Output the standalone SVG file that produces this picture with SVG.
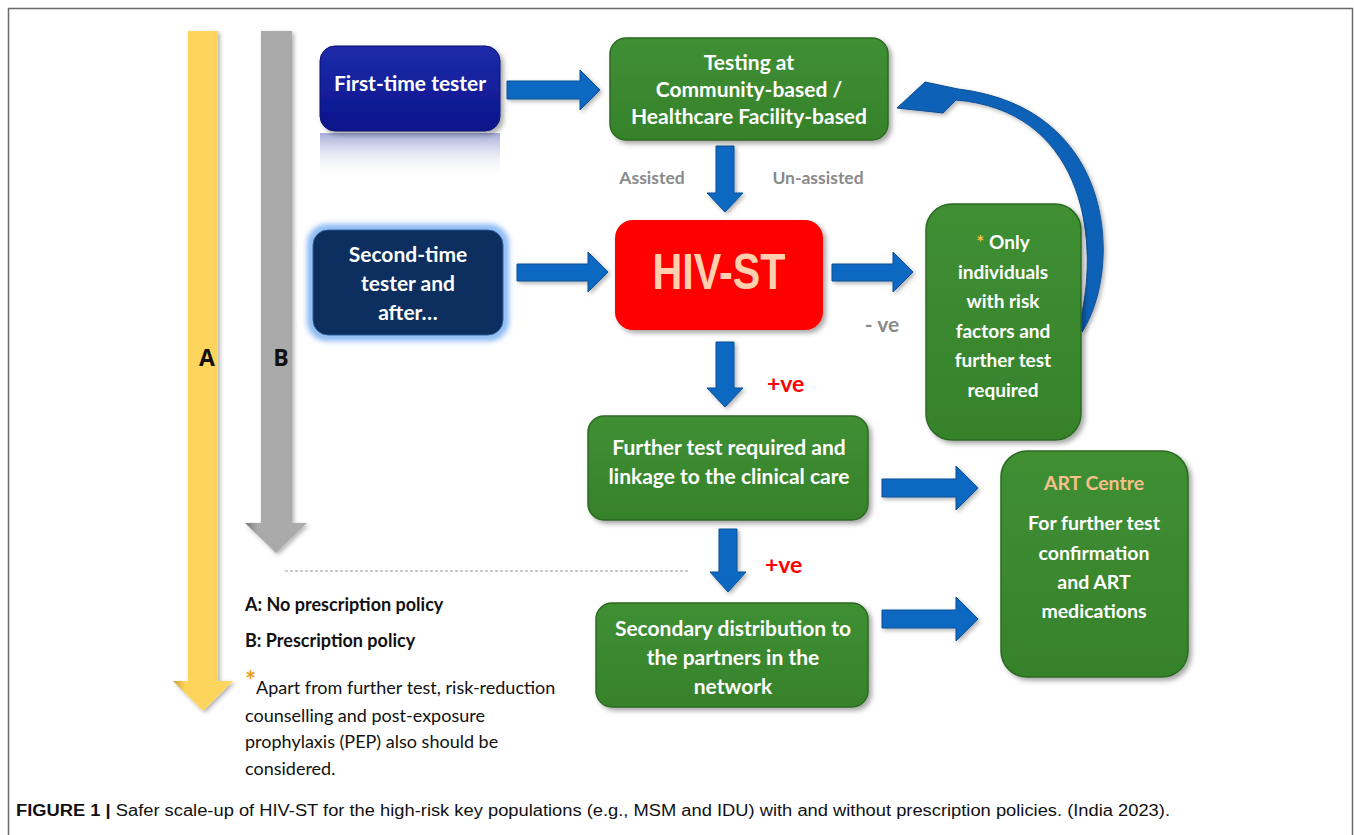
<svg xmlns="http://www.w3.org/2000/svg" width="1354" height="835" viewBox="0 0 1354 835">
<defs>
<style>
.t{font-family:Lato,"Open Sans","Liberation Sans",sans-serif;font-weight:bold;fill:#fff;text-anchor:middle;font-size:21px;}
.t2{font-size:19px;}
.t3{font-size:19.5px;}
.g{font-family:Lato,"Open Sans","Liberation Sans",sans-serif;font-weight:bold;fill:#8a8a8a;text-anchor:middle;font-size:17.5px;}
.r{font-family:Lato,"Open Sans","Liberation Sans",sans-serif;font-weight:bold;fill:#ff0000;font-size:23px;}
.lg{font-family:Lato,"Open Sans","Liberation Sans",sans-serif;fill:#111;font-size:18px;}
.green{fill:url(#gg);stroke:#2c6a23;stroke-width:1.5;filter:url(#sh);}
.blk{fill:#0b68c2;stroke:#0a4f96;stroke-width:1;filter:url(#sh2);}
</style>
<linearGradient id="gg" x1="0" y1="0" x2="0" y2="1"><stop offset="0" stop-color="#3f8f33"/><stop offset="1" stop-color="#36822b"/></linearGradient>
<linearGradient id="bg1" x1="0" y1="0" x2="0" y2="1"><stop offset="0" stop-color="#1c2cab"/><stop offset="1" stop-color="#0b148a"/></linearGradient>
<linearGradient id="refl" x1="0" y1="0" x2="0" y2="1"><stop offset="0" stop-color="#8d96cf" stop-opacity="0.8"/><stop offset="1" stop-color="#ffffff" stop-opacity="0"/></linearGradient>
<linearGradient id="yel" x1="0" y1="0" x2="1" y2="0"><stop offset="0" stop-color="#c9a23a"/><stop offset="0.2" stop-color="#fdd35a"/><stop offset="1" stop-color="#ffd75e"/></linearGradient>
<linearGradient id="gry" x1="0" y1="0" x2="1" y2="0"><stop offset="0" stop-color="#777"/><stop offset="0.2" stop-color="#a9a9a9"/><stop offset="1" stop-color="#ababab"/></linearGradient>
<filter id="sh" x="-20%" y="-20%" width="140%" height="140%"><feDropShadow dx="3" dy="3" stdDeviation="2.5" flood-color="#000" flood-opacity="0.35"/></filter>
<filter id="sh2" x="-20%" y="-20%" width="140%" height="140%"><feDropShadow dx="2" dy="2" stdDeviation="2" flood-color="#000" flood-opacity="0.3"/></filter>
<filter id="glow" x="-20%" y="-20%" width="140%" height="140%"><feGaussianBlur stdDeviation="3"/></filter>
</defs>
<rect x="0" y="0" width="1354" height="835" fill="#fff"/>
<rect x="8.5" y="8.5" width="1344" height="840" fill="none" stroke="#6a6a6a" stroke-width="1.5"/>

<g id="policy-arrows">
<path d="M188 31 H218 V681 H233 L203 711 L173 681 H188 Z" fill="url(#yel)" filter="url(#sh2)"/>
<path d="M261 31 H292 V523 H307 L276 553 L245 523 H261 Z" fill="url(#gry)" filter="url(#sh2)"/>
<text x="207" y="366" font-family="'Open Sans','Liberation Sans',sans-serif" font-weight="bold" font-size="23" text-anchor="middle" fill="#111">A</text>
<text x="281" y="366" font-family="'Open Sans','Liberation Sans',sans-serif" font-weight="bold" font-size="23" text-anchor="middle" fill="#111">B</text>
</g>

<g id="connectors">
<path class="blk" d="M507 81 H580 V70 L600 90 L580 110 V99 H507 Z"/>
<path class="blk" d="M517 264 H588 V252 L608 272 L588 292 V281 H517 Z"/>
<path class="blk" d="M832 264 H893 V252 L913 272 L893 292 V281 H832 Z"/>
<path class="blk" d="M882 479 H956 V466 L978 488 L956 510 V497 H882 Z"/>
<path class="blk" d="M882 610 H956 V597 L978 619 L956 641 V628 H882 Z"/>
<path class="blk" d="M716 146 H734 V193 H743 L725 212 L707 193 H716 Z"/>
<path class="blk" d="M716 342 H734 V388 H743 L725 407 L707 388 H716 Z"/>
<path class="blk" d="M719 529 H737 V572 H746 L728 592 L710 572 H719 Z"/>
<path d="M1082 332 C1122 270 1118 108 958 89 L925 82 L897 108 L943 113 L956 100 C1078 110 1102 230 1080 322 Z" fill="#0b62b8" stroke="#0a4f96" stroke-width="1" filter="url(#sh2)"/>
<line x1="285" y1="571" x2="690" y2="571" stroke="#999" stroke-width="1" stroke-dasharray="3,2"/>
<text class="g" x="652" y="184">Assisted</text>
<text class="g" x="818" y="184">Un-assisted</text>
<text class="g" x="882" y="332" style="font-size:21px">- ve</text>
<text class="r" x="767" y="392">+ve</text>
<text class="r" x="765" y="573">+ve</text>
</g>

<g id="first-time">
<rect x="320" y="133" width="180" height="45" fill="url(#refl)"/>
<rect x="320" y="46" width="180" height="85" rx="15" fill="url(#bg1)" stroke="#0a1070" stroke-width="1" filter="url(#sh)"/>
<text class="t" x="410" y="91">First-time tester</text>
</g>

<g id="testing">
<rect class="green" x="610" y="38" width="278" height="102" rx="16"/>
<text class="t" x="749" y="70">Testing at</text>
<text class="t" x="749" y="97">Community-based /</text>
<text class="t" x="749" y="124">Healthcare Facility-based</text>
</g>

<g id="second-time">
<rect x="311" y="228" width="194" height="109" rx="16" fill="none" stroke="#5d9ff0" stroke-width="6" filter="url(#glow)"/>
<rect x="313" y="230" width="190" height="105" rx="15" fill="#0c2f60" stroke="#2a5a9a" stroke-width="1"/>
<text class="t" x="408" y="262">Second-time</text>
<text class="t" x="408" y="291">tester and</text>
<text class="t" x="408" y="320">after…</text>
</g>

<g id="hiv-st">
<rect x="615" y="220" width="208" height="110" rx="18" fill="#ff0000" filter="url(#sh)"/>
<text x="719" y="289" font-family="'Liberation Sans',Arial,sans-serif" font-weight="bold" font-size="50" fill="#ffcfb0" text-anchor="middle" textLength="133" lengthAdjust="spacingAndGlyphs">HIV-ST</text>
</g>

<g id="only-individuals">
<rect class="green" x="926" y="204" width="155" height="236" rx="26"/>
<text class="t t2" x="1003" y="249"><tspan fill="#f5c242">*</tspan> Only</text>
<text class="t t2" x="1003" y="279">individuals</text>
<text class="t t2" x="1003" y="308">with risk</text>
<text class="t t2" x="1003" y="338">factors and</text>
<text class="t t2" x="1003" y="367">further test</text>
<text class="t t2" x="1003" y="397">required</text>
</g>

<g id="further-test">
<rect class="green" x="588" y="416" width="280" height="104" rx="16"/>
<text class="t" x="729" y="455">Further test required and</text>
<text class="t" x="729" y="484">linkage to the clinical care</text>
</g>

<g id="secondary">
<rect class="green" x="596" y="603" width="272" height="104" rx="16"/>
<text class="t" x="733" y="636">Secondary distribution to</text>
<text class="t" x="733" y="665">the partners in the</text>
<text class="t" x="733" y="694">network</text>
</g>

<g id="art-centre">
<rect class="green" x="1001" y="451" width="187" height="226" rx="26"/>
<text class="t t3" x="1094" y="490" style="fill:#f7c08c">ART Centre</text>
<text class="t t3" x="1094" y="530">For further test</text>
<text class="t t3" x="1094" y="560">confirmation</text>
<text class="t t3" x="1094" y="589">and ART</text>
<text class="t t3" x="1094" y="618">medications</text>
</g>

<g id="legend">
<text class="lg" x="245" y="611" font-weight="bold">A: No prescription policy</text>
<text class="lg" x="245" y="647" font-weight="bold">B: Prescription policy</text>
<text class="lg" x="245" y="694"><tspan fill="#e8a020" font-size="26" font-weight="bold" dy="-4">*</tspan><tspan dy="4">Apart from further test, risk-reduction</tspan></text>
<text class="lg" x="245" y="722">counselling and post-exposure</text>
<text class="lg" x="245" y="748">prophylaxis (PEP) also should be</text>
<text class="lg" x="245" y="775">considered.</text>
</g>

<g id="caption">
<text x="16" y="816" font-family="'Liberation Sans',Arial,sans-serif" font-size="16" fill="#111" textLength="1154" lengthAdjust="spacingAndGlyphs"><tspan font-weight="bold">FIGURE 1 | </tspan>Safer scale-up of HIV-ST for the high-risk key populations (e.g., MSM and IDU) with and without prescription policies. (India 2023).</text>
</g>
</svg>
